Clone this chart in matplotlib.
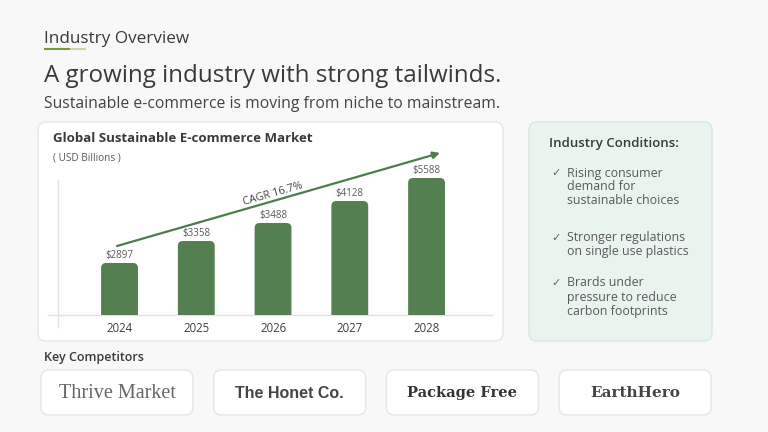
import matplotlib
matplotlib.use("Agg")
import matplotlib.pyplot as plt
from matplotlib.patches import FancyBboxPatch

# データ
years = ["2024", "2025", "2026", "2027", "2028"]
bar_heights = [52, 74, 92, 114, 137]  # 図から読んだ棒の高さ（相対値）
value_labels = ["$2897", "$3358", "$3488", "$4128", "$5588"]
cagr_label = "CAGR 16.7%"
conditions = [
    "Rising consumer\ndemand for\nsustainable choices",
    "Stronger regulations\non single use plastics",
    "Brards under\npressure to reduce\ncarbon footprints",
]
competitors = ["Thrive Market", "The Honet Co.", "Package Free", "EarthHero"]

plt.rcParams["font.family"] = ["Open Sans", "DejaVu Sans"]

BG = "#f8f8f8"
GREEN = "#547f51"
DARK = "#3a3a3a"
GREY = "#5a5a5a"

fig = plt.figure(figsize=(7.68, 4.32), dpi=100, facecolor=BG)

# 全体用の座標（ピクセル）
ov = fig.add_axes([0, 0, 1, 1], zorder=0)
ov.set_xlim(0, 768)
ov.set_ylim(432, 0)
ov.axis("off")


def card(x, y, w, h, fc, ec, r=8):
    ov.add_patch(FancyBboxPatch((x, y), w, h,
                                boxstyle=f"round,pad=0,rounding_size={r}",
                                fc=fc, ec=ec, lw=1.0))


# ヘッダー
ov.text(44, 39, "Industry Overview", fontsize=12.3, color=DARK, va="center")
ov.plot([44, 70], [49, 49], color="#7a9a3a", lw=1.5, solid_capstyle="butt")
ov.plot([70, 86], [49, 49], color="#c8d6a8", lw=1.5, solid_capstyle="butt")
ov.text(44, 76, "A growing industry with strong tailwinds.", fontsize=17.4,
        color=DARK, va="center")
ov.text(44, 104, "Sustainable e-commerce is moving from niche to mainstream.",
        fontsize=11.3, color="#444444", va="center")

# グラフカード
card(38, 122, 465, 219, "white", "#e6e6e6")
ov.text(53, 139, "Global Sustainable E-commerce Market", fontsize=9.5,
        fontweight="bold", color=DARK, va="center")
ov.text(53, 158, "( USD Billions )", fontsize=7.2, color=GREY, va="center")
ov.plot([58, 58], [180, 327], color="#e2e2e2", lw=1)
ov.plot([48, 492], [315, 315], color="#e2e2e2", lw=1)

# 棒グラフ
ax = fig.add_axes([48 / 768, (432 - 315) / 432, 444 / 768, 145 / 432], zorder=1)
ax.patch.set_alpha(0)
ax.set_xlim(-0.932, 4.853)
ax.set_ylim(0, 145)
for s in ax.spines.values():
    s.set_visible(False)
ax.set_yticks([])
ax.set_xticks(range(len(years)))
ax.set_xticklabels(years, fontsize=8.3, color="#3f3f3f")
ax.tick_params(axis="x", length=0, pad=5)

bars = ax.bar(range(len(years)), bar_heights, width=0.48, color=GREEN)
px_x = (ax.get_xlim()[1] - ax.get_xlim()[0]) / 444
for b, lab in zip(bars, value_labels):
    b.set_visible(False)
    r = 5 * px_x
    ax.add_patch(FancyBboxPatch((b.get_x(), -10), b.get_width(), b.get_height() + 10,
                                boxstyle=f"round,pad=0,rounding_size={r}",
                                mutation_aspect=1 / px_x, fc=GREEN, ec="none"))
    ax.text(b.get_x() + b.get_width() / 2, b.get_height() + 8, lab,
            fontsize=7, color=GREY, ha="center", va="center")

# CAGR矢印
ov.annotate("", xy=(440, 153), xytext=(117, 246),
            arrowprops=dict(arrowstyle="-|>", color="#4e7c4b", lw=1.6,
                            mutation_scale=10, shrinkA=0, shrinkB=0), zorder=3)
ov.text(273, 194, cagr_label, fontsize=7.8, color="#444444", rotation=16,
        ha="center", va="center", rotation_mode="anchor", zorder=3)

# 業界の状況
card(529, 122, 183, 219, "#e9f4ee", "#d6e9dc")
ov.text(549, 144, "Industry Conditions:", fontsize=9.5, fontweight="semibold",
        color=DARK, va="center")
for yy, txt in zip([173, 238, 283], conditions):
    ov.text(551, yy, "✓", fontsize=8, color="#666666", va="center",
            family=["DejaVu Sans"])
    ov.text(567, yy - 6.5, txt, fontsize=8.9, color=GREY, va="top",
            linespacing=1.1)

# 競合
ov.text(44, 358, "Key Competitors", fontsize=9, fontweight="semibold",
        color=DARK, va="center")
logo_styles = [
    dict(family=["Liberation Serif"], fontsize=14.5, color="#666666"),
    dict(family=["Liberation Sans"], fontsize=11.5, color="#444444",
         fontweight="bold"),
    dict(family=["DejaVu Serif"], fontsize=10.5, color="#333333",
         fontweight="bold"),
    dict(family=["DejaVu Serif"], fontsize=11, color="#444444",
         fontweight="bold"),
]
for i, (name, st) in enumerate(zip(competitors, logo_styles)):
    x0 = 41 + i * 172.7
    card(x0, 370, 152, 45, "white", "#e6e6e6")
    ov.text(x0 + 76, 393, name, ha="center", va="center", **st)

fig.savefig("out.png", dpi=100, facecolor=BG)
